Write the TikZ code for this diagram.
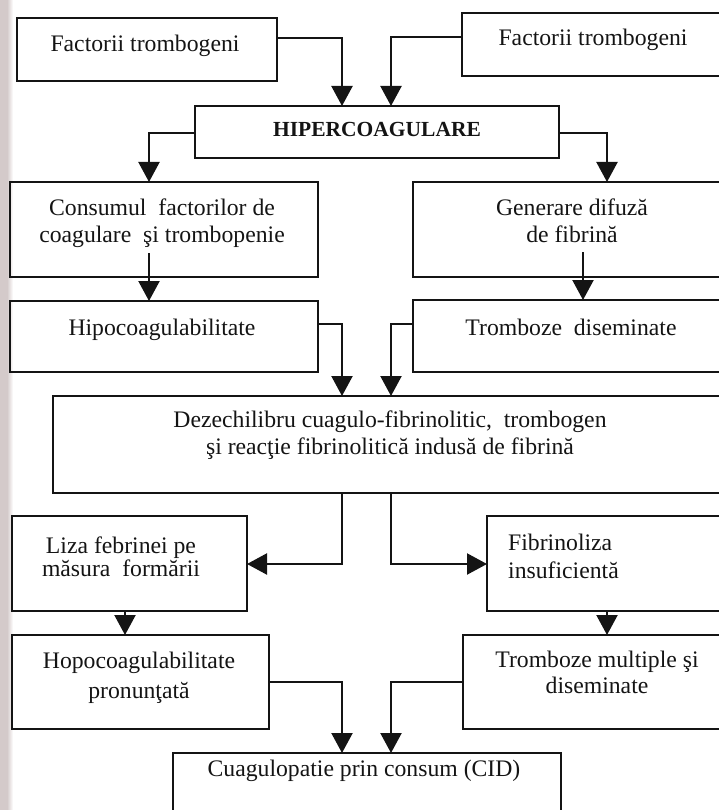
\documentclass[tikz,border=0pt]{standalone}
\usepackage{fontspec}
\setmainfont{Liberation Serif}
\usetikzlibrary{arrows.meta,calc}
\definecolor{ink}{HTML}{141414}
\definecolor{margin}{RGB}{212,202,202}
\newcommand\boxfont{\fontsize{23.7}{28}\selectfont}
\newcommand\headfont{\bfseries\fontsize{21.5}{26}\selectfont}
\begin{document}
\begin{tikzpicture}[x=1pt,y=-1pt,
  box/.style 2 args={draw=ink, line width=2.2pt, rectangle, inner sep=0pt,
    outer sep=0pt, minimum width=#1pt, minimum height=#2pt},
  % text nodes are placed by the baseline of their last line
  txt/.style={font=\boxfont, text=ink, inner sep=0pt, align=center, anchor=base},
  arr/.style={draw=ink, line width=2.2pt, -{Triangle[length=20pt,width=21pt]}},
]
\useasboundingbox (0,0) rectangle (719,810);
\path[clip] (0,0) rectangle (719,810);

% shaded page edge on the left
\fill[margin] (0,0) rectangle (7,810);
\shade[left color=margin, right color=white] (7,0) rectangle (13,810);

% boxes
\node[box={260}{63}]  (F1)  at (147,49.5)   {};
\node[box={268}{63}]  (F2)  at (596,44.5)   {};
\node[box={364}{52}]  (H)   at (377,132)    {};
\node[box={308}{95}]  (C)   at (164,229.5)  {};
\node[box={317}{95}]  (G)   at (571.5,229.5){};
\node[box={308}{71}]  (Hi)  at (164,336.5)  {};
\node[box={317}{72}]  (T)   at (571.5,336)  {};
\node[box={737}{97}]  (D)   at (421.5,444.5){};
\node[box={235}{95}]  (L)   at (129.5,563.5){};
\node[box={243}{95}]  (Fi)  at (608.5,563.5){};
\node[box={257}{94}]  (Ho)  at (140.5,682)  {};
\node[box={267}{94}]  (TM)  at (596.5,682)  {};
\node[box={388}{87}]  (CID) at (367,796.5)  {};

% texts
\node[txt] (F1t) at (145,52) {Factorii trombogeni};
\node[txt] (F2t) at (593,46) {Factorii trombogeni};
\node[txt, font=\headfont] (Ht) at (377,137) {HIPERCOAGULARE};
\node[txt] (Ct) at (162,242.5) {Consumul~ factorilor de\\[-1pt]coagulare~ şi trombopenie};
\node[txt] (Gt) at (572,242.5) {Generare difuză\\[-1pt]de fibrină};
\node[txt] (Hit) at (162,335) {Hipocoagulabilitate};
\node[txt] (Tt) at (571,335) {Tromboze~ diseminate};
\node[txt] (Dt) at (390,454) {Dezechilibru cuagulo-fibrinolitic,~ trombogen\\[-1pt]şi reacţie fibrinolitică indusă de fibrină};
\node[txt] (Lt) at (121,576) {Liza febrinei pe\\[-5pt]măsura~ formării};
\node[txt, align=left, anchor=base west] (Fit) at (508,578) {Fibrinoliza\\insuficientă};
\node[txt] (Hot) at (139,698) {Hopocoagulabilitate\\[2pt]pronunţată};
\node[txt] (TMt) at (597,693) {Tromboze multiple şi\\[-2pt]diseminate};
\node[txt] (CIDt) at (364,776) {Cuagulopatie prin consum (CID)};

% connectors
\draw[arr] (F1.east |- 0,38) -| (H.north -| 342,0);
\draw[arr] (F2.west |- 0,37) -| (H.north -| 391,0);
\draw[arr] (H.west |- 0,133) -| (C.north -| 149,0);
\draw[arr] (H.east |- 0,133) -| (G.north -| 607,0);
\draw[arr] ($(C.south -| 149,0)+(0,-24)$) -- (Hi.north -| 149,0);
\draw[arr] ($(G.south -| 583,0)+(0,-25)$) -- (T.north -| 583,0);
\draw[arr] (Hi.east |- 0,324) -| (D.north -| 342,0);
\draw[arr] (T.west |- 0,324) -| (D.north -| 391,0);
\draw[arr] (D.south -| 342,0) |- (L.east |- 0,564);
\draw[arr] (D.south -| 391,0) |- (Fi.west |- 0,564);
\draw[arr] (L.south -| 125,0) -- (Ho.north -| 125,0);
\draw[arr] (Fi.south -| 607,0) -- (TM.north -| 607,0);
\draw[arr] (Ho.east |- 0,682) -| (CID.north -| 342,0);
\draw[arr] (TM.west |- 0,682) -| (CID.north -| 391,0);
\end{tikzpicture}
\end{document}
